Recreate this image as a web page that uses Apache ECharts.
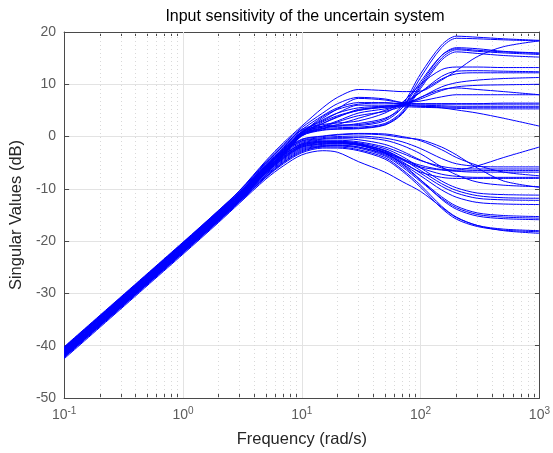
<!DOCTYPE html>
<html>
<head>
<meta charset="utf-8">
<script src="https://cdn.jsdelivr.net/npm/echarts@6/dist/echarts.min.js"></script>
<style>
  html, body { margin: 0; padding: 0; background: #fff; }
  #chart { width: 553px; height: 453px; }
</style>
</head>
<body>
<div id="chart"></div>
<script>
const W = [0.1, 1, 2, 3, 5, 7, 10, 15, 20, 30, 50, 70, 100, 150, 200, 300, 500, 1000];

// upper singular values (dB)
const U1 = [-40.2, -20.2, -14.1, -10.4, -5, -1.8, 1.2, 2, 2.2, 2.3, 3.3, 6, 12, 17.5, 19.2, 19, 18.7, 18.4];
const U2 = [-40.5, -20.5, -14.4, -10.7, -5.3, -2.1, 0.9, 1.8, 2, 2.1, 3, 5.5, 11.3, 17, 18.8, 18.7, 18.5, 18.3];
const U3 = [-40.8, -20.8, -14.7, -11, -5.6, -2.4, 0.6, 1.5, 1.7, 1.8, 2.5, 4.8, 10, 15.5, 17, 16.8, 16.3, 16];
const U4 = [-41, -21, -14.9, -11.2, -5.8, -2.6, 0.4, 1.3, 1.5, 1.6, 2.3, 4.5, 9.6, 15, 16.6, 16.3, 16, 15.7];
const U5 = [-41.2, -21.2, -15.1, -11.4, -6, -2.8, 0.2, 1.2, 1.4, 1.5, 2.2, 4.3, 9.2, 14.6, 16.2, 15.9, 15.5, 15.2];
const U6 = [-40.3, -20.3, -14.1, -10.3, -4.6, -1.2, 2, 5.5, 7.5, 9, 8.8, 8.6, 8.7, 10.8, 12.6, 15.3, 17.2, 18.3];
const U7 = [-40.6, -20.6, -14.5, -10.8, -5.4, -2.2, 1.4, 2.3, 2.6, 3, 4.5, 6.5, 10, 12.8, 13.3, 13.3, 13.2, 13.2];
const U8 = [-41.3, -21.3, -15.2, -11.4, -5.9, -2.6, 1, 3, 4.5, 6, 6, 6.2, 8.5, 11.5, 12.5, 12.6, 12.5, 12.4];
const U9 = [-41.5, -21.5, -15.4, -11.7, -6.2, -3, 0.7, 2, 3, 4.5, 5.3, 6, 7.5, 9.5, 10.3, 10.8, 11.1, 11.3];
const U10 = [-40.9, -20.9, -14.8, -11.1, -5.7, -2.5, 0.8, 2.5, 3.7, 5.2, 5.6, 6, 7.2, 8.8, 9.5, 9.8, 9.9, 10];
const U11 = [-41.7, -21.7, -15.6, -11.9, -6.4, -3.2, 0.5, 1.8, 2.8, 4, 4.8, 5.8, 7.5, 9, 9.3, 9, 8.6, 8];
const U12 = [-41.1, -21.1, -15, -11.2, -5.6, -2.3, 0.8, 3.5, 5.3, 7.3, 7, 6.5, 6.8, 7.6, 8, 8, 8, 8];
const U13 = [-40.4, -20.4, -14.2, -10.4, -4.8, -1.5, 1.7, 4.5, 6.3, 7.5, 7.2, 6.5, 6.2, 6.2, 6.2, 6.2, 6.2, 6.2];
const U14 = [-40.7, -20.7, -14.5, -10.7, -5.1, -1.8, 1.3, 4, 5.5, 6.5, 6.5, 6.2, 6, 5.9, 5.8, 5.8, 5.8, 5.8];
const U15 = [-41.4, -21.4, -15.3, -11.5, -6, -2.7, 0.8, 3.2, 4.5, 5.5, 5.8, 5.9, 5.8, 5.7, 5.6, 5.6, 5.6, 5.6];
const U16 = [-41.8, -21.8, -15.7, -12, -6.5, -3.3, 0.4, 2.8, 4, 5, 5.6, 5.7, 5.6, 5.5, 5.4, 5.3, 5.3, 5.3];
const U17 = [-42, -22, -15.9, -12.2, -6.7, -3.5, 0.2, 2.5, 3.8, 5, 5.8, 6, 5.8, 5.5, 5.1, 4.5, 3.5, 2];
const U18 = [-41.6, -21.6, -15.5, -11.8, -6.3, -3.1, 0.6, 3.8, 5.2, 6.2, 6.4, 6.3, 6.3, 6.3, 6.3, 6.3, 6.4, 6.4];
const U19 = [-41.9, -21.9, -15.8, -12.1, -6.6, -3.4, 0.3, 1.6, 2, 2.5, 3.5, 5.5, 10.5, 15.5, 16.8, 16.5, 16.2, 15.9];
const U20 = [-42.2, -22.2, -16.1, -12.4, -6.9, -3.7, 0.1, 1.5, 2.3, 3.5, 5, 6.3, 8.5, 11, 12, 12.2, 12.2, 12.2];

// lower singular values (dB)
const L1 = [-40.9, -20.9, -14.8, -11.1, -6.2, -3.5, -1.5, -0.9, -1, -1.5, -3, -4.3, -5.5, -6.3, -6.4, -5.6, -4, -2];
const L2 = [-40.4, -20.4, -14.3, -10.6, -5.6, -2.8, -0.5, 0.1, 0.4, 0.6, 0.5, 0, -0.8, -2.5, -4, -5.5, -6.8, -7.5];
const L3 = [-40.6, -20.6, -14.5, -10.8, -5.8, -3, -0.8, -0.2, 0, 0.1, -0.3, -1, -2.3, -4.2, -5.2, -5.7, -5.8, -5.8];
const L4 = [-41.2, -21.2, -15.1, -11.4, -6.5, -3.7, -1.3, -0.7, -0.7, -1, -2, -3.2, -4.6, -5.7, -6.1, -6.2, -6.2, -6.2];
const L5 = [-41.5, -21.5, -15.4, -11.7, -6.8, -4, -1.7, -1.1, -1.1, -1.4, -2.6, -4.2, -5.8, -6.4, -6.6, -6.5, -6.5, -6.5];
const L6 = [-40.5, -20.5, -14.4, -10.7, -5.7, -2.9, -0.6, 0, 0.3, 0.5, 0.3, -0.2, -0.6, -2, -3.5, -6, -8.5, -9.7];
const L7 = [-41, -21, -14.9, -11.2, -6.3, -3.5, -1.4, -0.9, -0.9, -1.3, -2.8, -4.5, -6, -7.2, -7.6, -7.8, -7.8, -7.8];
const L8 = [-40.7, -20.7, -14.6, -10.9, -5.9, -3.1, -0.9, -0.4, -0.2, -0.2, -0.7, -1.7, -3.3, -5.8, -7.3, -8.7, -9.3, -9.6];
const L9 = [-41.3, -21.3, -15.2, -11.5, -6.6, -3.8, -1.6, -1, -0.9, -1.2, -2.3, -3.8, -6, -8.5, -9.8, -10.8, -11.1, -11.2];
const L10 = [-41.6, -21.6, -15.5, -11.8, -6.9, -4.1, -1.9, -1.3, -1.2, -1.5, -2.7, -4.3, -6.5, -9, -10.3, -11.3, -11.7, -11.8];
const L11 = [-41.8, -21.8, -15.7, -12, -7.1, -4.3, -2.1, -1.5, -1.4, -1.7, -3, -4.8, -7, -9.5, -10.8, -11.8, -12.1, -12.2];
const L12 = [-41.9, -21.9, -15.8, -12.1, -7.3, -4.5, -2.3, -1.7, -1.6, -2, -3.3, -5.2, -7.5, -10.2, -11.6, -12.6, -12.9, -13];
const L13 = [-42, -22, -15.9, -12.2, -7.4, -4.7, -2.5, -1.8, -1.7, -2, -3.5, -5.5, -8.3, -11.5, -13.3, -14.6, -15.1, -15.3];
const L14 = [-42.1, -22.1, -16, -12.3, -7.6, -4.9, -2.7, -1.9, -1.8, -2.2, -3.7, -5.8, -8.6, -11.8, -13.6, -14.9, -15.4, -15.6];
const L15 = [-41.7, -21.7, -15.6, -11.9, -7, -4.2, -2, -1.4, -1.3, -1.6, -3.1, -5.2, -8.3, -12, -13.9, -15.2, -15.7, -15.9];
const L16 = [-42.2, -22.2, -16.1, -12.4, -7.7, -5, -2.9, -2, -2, -2.5, -4, -6.3, -9.3, -13.3, -15.4, -17, -17.7, -18];
const L17 = [-42.3, -22.3, -16.2, -12.5, -7.8, -5.2, -3.1, -2.2, -2.2, -2.7, -4.3, -6.6, -9.7, -13.7, -15.8, -17.2, -17.9, -18.2];
const L18 = [-42.5, -22.5, -16.4, -12.7, -8.1, -5.6, -3.5, -2.7, -3, -4.8, -6.8, -8.6, -10.5, -13.5, -15.5, -17, -18, -18.5];
const L19 = [-40.8, -20.8, -14.7, -11, -6.1, -3.3, -1.1, -0.5, -0.4, -0.6, -1.5, -2.8, -4.5, -6, -6.6, -6.8, -6.8, -6.8];
const L20 = [-41.4, -21.4, -15.3, -11.6, -6.7, -3.9, -1.8, -1.2, -1.2, -1.6, -3.2, -5, -6.8, -7.8, -8, -8, -8, -8];

const curves = [
  U1, U2, U3, U4, U5, U6, U7, U8, U9, U10, U11, U12, U13, U14, U15, U16, U17, U18, U19, U20,
  L1, L2, L3, L4, L5, L6, L7, L8, L9, L10, L11, L12, L13, L14, L15, L16, L17, L18, L19, L20,
];

// axis ticks
const MAJOR_X = [0.1, 1, 10, 100, 1000];
const MINOR_X = [];
[0.1, 1, 10, 100].forEach(function (d) {
  for (let k = 2; k <= 9; k++) MINOR_X.push(+(d * k).toPrecision(3));
});
const ALL_X = MAJOR_X.concat(MINOR_X);

const FONT = "'Liberation Sans', Arial, Helvetica, sans-serif";
const LABEL_COLOR = "#5c5c5c";
const AXIS_COLOR = "#4a4a4a";

const chart = echarts.init(document.getElementById("chart"), null, { renderer: "canvas" });

const series = curves.map(function (c) {
  return {
    type: "line",
    data: W.map(function (w, i) { return [w, c[i]]; }),
    smooth: 0.3,
    showSymbol: false,
    lineStyle: { color: "#0000ff", width: 1 },
    silent: true,
    z: 3,
  };
});

// grid lines (major solid, minor dotted), kept under the curves
series.unshift({
  type: "line",
  data: [],
  silent: true,
  z: 1,
  markLine: {
    silent: true,
    z: 1,
    symbol: "none",
    label: { show: false },
    animation: false,
    data: MINOR_X.map(function (v) {
      return { xAxis: v, lineStyle: { color: "#d9d9d9", type: [1, 3], width: 1 } };
    }).concat(MAJOR_X.slice(1, 4).map(function (v) {
      return { xAxis: v, lineStyle: { color: "#e3e3e3", type: "solid", width: 1 } };
    })),
  },
});

const xCommon = {
  type: "log",
  logBase: 10,
  min: 0.1,
  max: 1000,
  splitLine: { show: false },
  axisLine: { show: true, onZero: false, lineStyle: { color: AXIS_COLOR, width: 1 } },
  axisTick: {
    show: true,
    inside: true,
    length: 4,
    customValues: ALL_X,
    lineStyle: { color: AXIS_COLOR },
  },
};

chart.setOption({
  animation: false,
  backgroundColor: "#fff",
  title: {
    text: "Input sensitivity of the uncertain system",
    left: 300,
    top: 4,
    textAlign: "center",
    textStyle: { fontFamily: FONT, fontSize: 16, fontWeight: "normal", color: "#000" },
  },
  grid: { left: 61, right: 11, top: 32, bottom: 54, containLabel: false },
  xAxis: [
    Object.assign({}, xCommon, {
      position: "bottom",
      name: "Frequency (rad/s)",
      nameLocation: "middle",
      nameGap: 33,
      nameTextStyle: { fontFamily: FONT, fontSize: 16.5, color: "#262626" },
      axisLabel: {
        show: true,
        margin: 8,
        customValues: MAJOR_X,
        formatter: function (v) {
          return "{b|10}{s|" + Math.round(Math.log10(v)) + "}";
        },
        rich: {
          b: { fontFamily: FONT, fontSize: 14, color: LABEL_COLOR },
          s: { fontFamily: FONT, fontSize: 10, color: LABEL_COLOR, padding: [0, 0, 9, 0] },
        },
      },
    }),
    Object.assign({}, xCommon, {
      position: "top",
      axisLabel: { show: false },
    }),
  ],
  yAxis: [
    {
      type: "value",
      min: -50,
      max: 20,
      interval: 10,
      position: "left",
      name: "Singular Values (dB)",
      nameLocation: "middle",
      nameGap: 34,
      nameTextStyle: { fontFamily: FONT, fontSize: 16.5, color: "#262626" },
      axisLine: { show: true, onZero: false, lineStyle: { color: AXIS_COLOR } },
      axisTick: { show: true, inside: true, length: 5, lineStyle: { color: AXIS_COLOR } },
      axisLabel: { fontFamily: FONT, fontSize: 14, color: LABEL_COLOR, margin: 8 },
      splitLine: { show: true, lineStyle: { color: "#e3e3e3", width: 1 } },
    },
    {
      type: "value",
      min: -50,
      max: 20,
      interval: 10,
      position: "right",
      axisLine: { show: true, onZero: false, lineStyle: { color: AXIS_COLOR } },
      axisTick: { show: true, inside: true, length: 5, lineStyle: { color: AXIS_COLOR } },
      axisLabel: { show: false },
      splitLine: { show: false },
    },
  ],
  series: series,
});
</script>
</body>
</html>
